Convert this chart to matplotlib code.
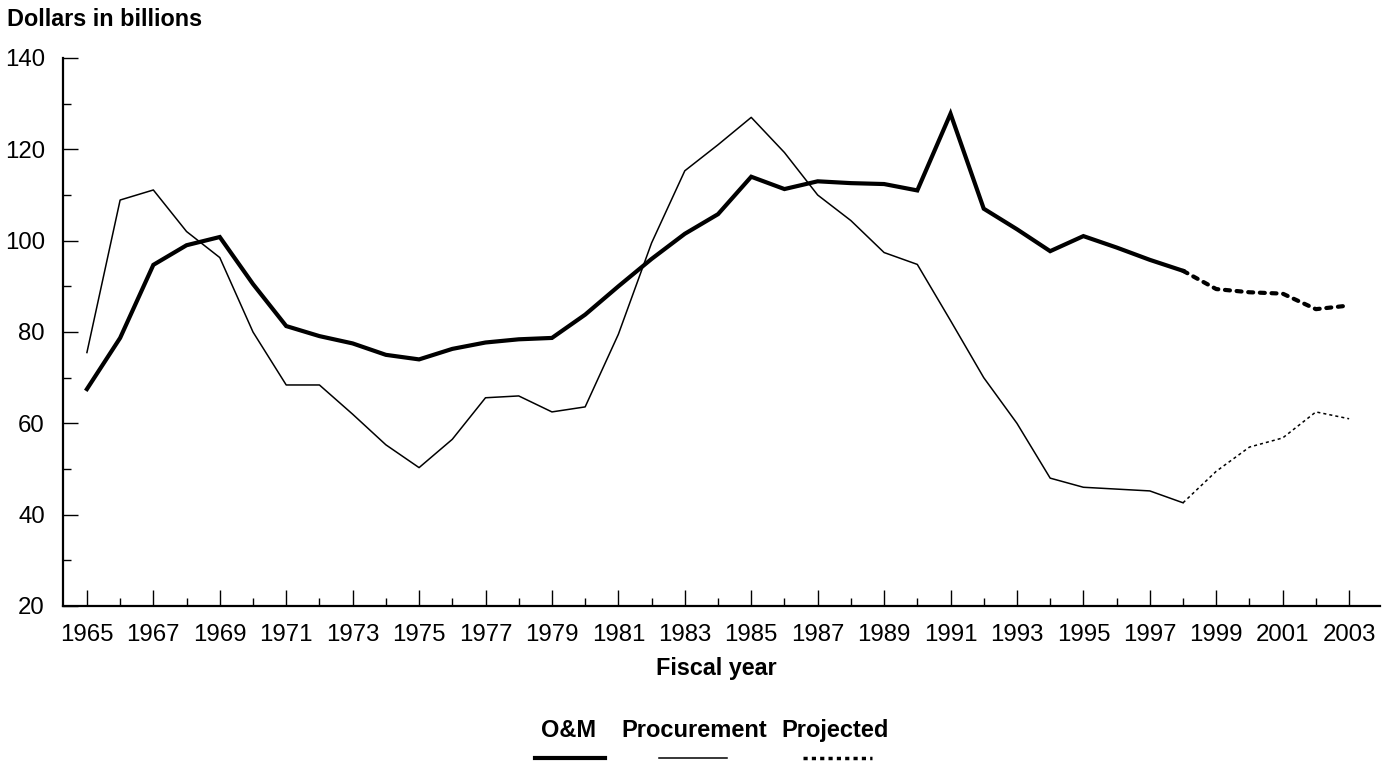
import matplotlib
matplotlib.use("Agg")
import matplotlib.pyplot as plt
from matplotlib.lines import Line2D
from matplotlib.ticker import MultipleLocator, FixedLocator

plt.rcParams['font.family'] = ['Liberation Sans', 'DejaVu Sans']

years = list(range(1965, 1999))
om = [67.5, 78.7, 94.7, 99.0, 100.8, 90.5, 81.3, 79.1, 77.5, 75.0,
      74.0, 76.3, 77.7, 78.4, 78.7, 83.8, 90.0, 96.0, 101.5, 105.8,
      114.0, 111.3, 113.0, 112.6, 112.4, 111.0, 127.8, 107.0, 102.5, 97.7,
      101.0, 98.5, 95.8, 93.4]
proc = [75.5, 108.9, 111.1, 102.0, 96.3, 80.0, 68.4, 68.4, 62.0, 55.3,
        50.3, 56.5, 65.6, 66.0, 62.5, 63.6, 79.5, 99.5, 115.3, 121.0,
        127.0, 119.3, 110.0, 104.4, 97.4, 94.8, 82.5, 70.0, 60.0, 48.0,
        46.0, 45.6, 45.2, 42.6]
proj_years = [1998, 1999, 2000, 2001, 2002, 2003]
om_proj = [93.4, 89.4, 88.7, 88.4, 85.0, 85.8]
proc_proj = [42.6, 49.5, 54.8, 56.8, 62.5, 61.0]

W, H = 1388, 764
fig = plt.figure(figsize=(W / 100, H / 100), dpi=100)
ax = fig.add_axes([63 / W, 1 - 606 / H, (1380 - 63) / W, (606 - 58) / H])

ax.plot(years, om, color='black', lw=3.0, solid_joinstyle='miter')
ax.plot(years, proc, color='black', lw=1.1)
ax.plot(proj_years, om_proj, color='black', lw=3.0, linestyle=(0, (1.2, 1.6)),
        dash_capstyle='round')
ax.plot(proj_years, proc_proj, color='black', lw=1.1, linestyle=(0, (2, 2)))

ax.set_xlim(1964.28, 2003.93)
ax.set_ylim(20, 140)

ax.spines['top'].set_visible(False)
ax.spines['right'].set_visible(False)
ax.spines['left'].set_linewidth(1.6)
ax.spines['bottom'].set_linewidth(1.6)

ax.xaxis.set_major_locator(FixedLocator(list(range(1965, 2004, 2))))
ax.xaxis.set_minor_locator(FixedLocator(list(range(1966, 2004, 2))))
ax.yaxis.set_major_locator(MultipleLocator(20))
ax.yaxis.set_minor_locator(MultipleLocator(10))

ax.tick_params(axis='x', which='major', direction='in', length=11.5, width=1.0,
               labelsize=17.3, pad=13)
ax.tick_params(axis='x', which='minor', direction='in', length=5.8, width=1.0)
ax.tick_params(axis='y', which='major', direction='in', length=11, width=1.0,
               labelsize=17.3, pad=13)
ax.tick_params(axis='y', which='minor', direction='in', length=5.8, width=1.0)

fig.text(7 / W, 1 - 20 / H, 'Dollars in billions', fontsize=16.8, fontweight='bold',
         ha='left', va='center')
fig.text(716 / W, 1 - 668 / H, 'Fiscal year', fontsize=16.8, fontweight='bold',
         ha='center', va='center')

# legend
ly_text = 1 - 737 / H
ly_line = 1 - 758 / H
fig.text(569 / W, ly_text, 'O&M', fontsize=17, fontweight='bold', ha='center', va='baseline')
fig.text(694 / W, ly_text, 'Procurement', fontsize=17, fontweight='bold', ha='center', va='baseline')
fig.text(835 / W, ly_text, 'Projected', fontsize=17, fontweight='bold', ha='center', va='baseline')
fig.add_artist(Line2D([535 / W, 605 / W], [ly_line, ly_line], color='black', lw=3.0,
                      transform=fig.transFigure))
fig.add_artist(Line2D([659 / W, 727 / W], [ly_line, ly_line], color='black', lw=1.1,
                      transform=fig.transFigure))
fig.add_artist(Line2D([803 / W, 872 / W], [ly_line, ly_line], color='black', lw=2.5,
                      linestyle=(0, (1.2, 1.2)), transform=fig.transFigure))

fig.savefig('out.png', dpi=100)
